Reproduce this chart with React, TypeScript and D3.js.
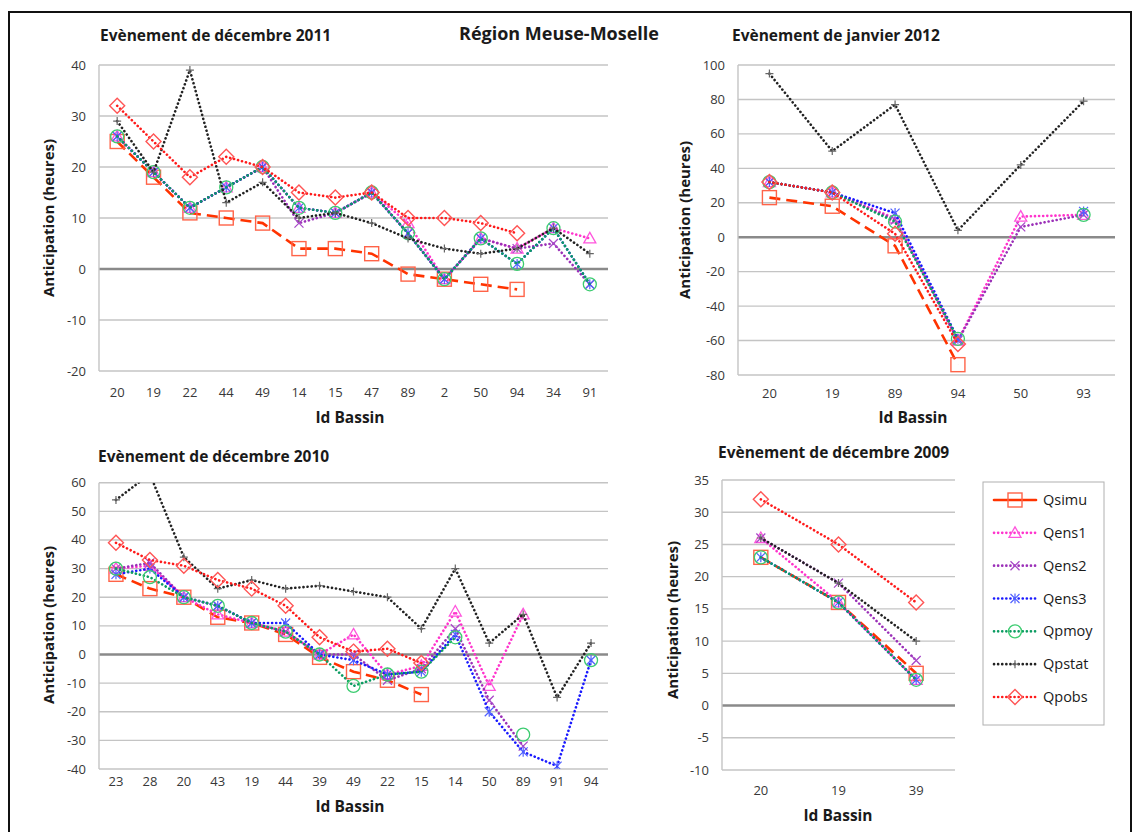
import * as d3 from "d3";

// ---- data -----------------------------------------------------------------
type V = number | null;

const cats2011 = ["20", "19", "22", "44", "49", "14", "15", "47", "89", "2", "50", "94", "34", "91"];
const qsimu2011: V[] = [25, 18, 11, 10, 9, 4, 4, 3, -1, -2, -3, -4, null, null];
const qens1_2011: V[] = [26, 19, 12, 16, 20, 12, 11, 15, 9, -2, 6, 4, 8, 6];
const qens2_2011: V[] = [26, 19, 12, 16, 20, 9, 11, 15, 7, -2, 6, 4, 5, -3];
const qens3_2011: V[] = [26, 19, 12, 16, 20, 12, 11, 15, 7, -2, 6, 1, 8, -3];
const qpmoy2011: V[] = [26, 19, 12, 16, 20, 12, 11, 15, 7, -2, 6, 1, 8, -3];
const qpstat2011: V[] = [29, 19, 39, 13, 17, 10, 11, 9, 6, 4, 3, 4, 8, 3];
const qpobs2011: V[] = [32, 25, 18, 22, 20, 15, 14, 15, 10, 10, 9, 7, null, null];

const cats2012 = ["20", "19", "89", "94", "50", "93"];
const qsimu2012: V[] = [23, 18, -5, -74, null, null];
const qens1_2012: V[] = [32, 26, 11, -60, 12, 13];
const qens2_2012: V[] = [32, 26, 10, -60, 6, 13];
const qens3_2012: V[] = [32, 26, 14, -59, null, 15];
const qpmoy2012: V[] = [32, 26, 9, -59, null, 13];
const qpstat2012: V[] = [95, 50, 77, 4, 42, 79];
const qpobs2012: V[] = [32, 26, 2, -62, null, null];

const cats2010 = ["23", "28", "20", "43", "19", "44", "39", "49", "22", "15", "14", "50", "89", "91", "94"];
const qsimu2010: V[] = [28, 23, 20, 13, 11, 7, -1, -6, -9, -14, null, null, null, null, null];
const qens1_2010: V[] = [30, 31, 20, 14, 11, 8, 0, 7, -7, -4, 15, -11, 14, null, null];
const qens2_2010: V[] = [30, 32, 20, 17, 11, 8, 0, 0, -9, -5, 9, -16, -32, null, null];
const qens3_2010: V[] = [28, 30, 20, 17, 11, 11, 0, -2, -7, -6, 7, -20, -34, -39, -2];
const qpmoy2010: V[] = [30, 27, 20, 17, 11, 8, 0, -11, -7, -6, 6, null, -28, null, -2];
const qpstat2010: V[] = [54, 63, 34, 23, 26, 23, 24, 22, 20, 9, 30, 4, 14, -15, 4];
const qpobs2010: V[] = [39, 33, 31, 26, 23, 17, 6, 1, 2, -3, null, null, null, null, null];

const cats2009 = ["20", "19", "39"];
const qsimu2009: V[] = [23, 16, 5];
const qens1_2009: V[] = [26, 16, 4];
const qens2_2009: V[] = [26, 19, 7];
const qens3_2009: V[] = [23, 16, 4];
const qpmoy2009: V[] = [23, 16, 4];
const qpstat2009: V[] = [26, 19, 10];
const qpobs2009: V[] = [32, 25, 16];

const seriesNames = ["Qsimu", "Qens1", "Qens2", "Qens3", "Qpmoy", "Qpstat", "Qpobs"];

// ---- styles ---------------------------------------------------------------
const styles: Record<string, { line: string; mark: string; kind: string; dash: string; w: number }> = {
  Qsimu: { line: "#ff3300", mark: "#ff6348", kind: "square", dash: "11 6", w: 2.6 },
  Qens1: { line: "#ff33cc", mark: "#ff55dd", kind: "triangle", dash: "0.1 4", w: 2.6 },
  Qens2: { line: "#9b30b8", mark: "#a848c8", kind: "x", dash: "0.1 4", w: 2.6 },
  Qens3: { line: "#1a1aff", mark: "#5060ff", kind: "star", dash: "0.1 4", w: 2.6 },
  Qpmoy: { line: "#0c9c62", mark: "#3ccc70", kind: "circle", dash: "0.1 4", w: 2.6 },
  Qpstat: { line: "#222222", mark: "#666666", kind: "plus", dash: "0.1 4", w: 2.6 },
  Qpobs: { line: "#ff1a1a", mark: "#ff5555", kind: "diamond", dash: "0.1 4", w: 2.6 },
};

const FONT = "'Open Sans', Lato, sans-serif";

function Marker({ kind, x, y, color }: { kind: string; x: number; y: number; color: string }) {
  switch (kind) {
    case "square":
      return <rect x={x - 7} y={y - 7} width={14} height={14} fill="none" stroke={color} strokeWidth={1.4} />;
    case "triangle":
      return <path d={`M${x},${y - 6} L${x + 6},${y + 4.5} L${x - 6},${y + 4.5} Z`} fill="none" stroke={color} strokeWidth={1.3} />;
    case "x":
      return (
        <path d={`M${x - 4.5},${y - 4.5} L${x + 4.5},${y + 4.5} M${x - 4.5},${y + 4.5} L${x + 4.5},${y - 4.5}`} stroke={color} strokeWidth={1.3} />
      );
    case "star":
      return (
        <path
          d={`M${x - 4.5},${y - 4.5} L${x + 4.5},${y + 4.5} M${x - 4.5},${y + 4.5} L${x + 4.5},${y - 4.5} M${x},${y - 5} L${x},${y + 5}`}
          stroke={color}
          strokeWidth={1.2}
        />
      );
    case "circle":
      return <circle cx={x} cy={y} r={6.5} fill="none" stroke={color} strokeWidth={1.3} />;
    case "plus":
      return <path d={`M${x - 4},${y} L${x + 4},${y} M${x},${y - 4} L${x},${y + 4}`} stroke={color} strokeWidth={1.2} />;
    case "diamond":
      return <path d={`M${x},${y - 7.5} L${x + 7.5},${y} L${x},${y + 7.5} L${x - 7.5},${y} Z`} fill="none" stroke={color} strokeWidth={1.4} />;
  }
  return null;
}

type ChartProps = {
  id: string;
  title: string;
  titleX: number;
  titleY: number;
  cats: string[];
  series: V[][];
  left: number;
  right: number;
  top: number;
  bottom: number;
  domain: [number, number];
  step: number;
  tickRight: number;
  xLabelY: number;
  axisTitleX: number;
  axisTitleY: number;
  yTitleX: number;
  yTitleY: number;
};

function Chart(p: ChartProps) {
  const x = d3.scaleBand<string>().domain(p.cats).range([p.left, p.right]);
  const y = d3.scaleLinear().domain(p.domain).range([p.bottom, p.top]);
  const ticks = d3.range(p.domain[0], p.domain[1] + p.step / 2, p.step);
  const cx = (i: number) => (x(p.cats[i]) ?? 0) + x.bandwidth() / 2;

  return (
    <g>
      <defs>
        <clipPath id={`clip-${p.id}`}>
          <rect x={p.left - 10} y={p.top} width={p.right - p.left + 20} height={p.bottom - p.top} />
        </clipPath>
      </defs>
      <text x={p.titleX} y={p.titleY} fontSize={15.5} fontWeight="bold" fill="#1a1a1a">
        {p.title}
      </text>
      {ticks.map((t) => (
        <g key={t}>
          <line
            x1={p.left}
            x2={p.right}
            y1={y(t)}
            y2={y(t)}
            stroke={t === 0 ? "#8a8a8a" : "#c4c4c4"}
            strokeWidth={t === 0 ? 2.6 : 1.4}
          />
          <text x={p.tickRight} y={y(t) + 4.5} textAnchor="end" fontSize={13} fill="#383838">
            {t}
          </text>
        </g>
      ))}
      <line x1={p.left} x2={p.left} y1={p.top} y2={p.bottom} stroke="#c4c4c4" strokeWidth={1.4} />
      {p.cats.map((c, i) => (
        <text key={i} x={cx(i)} y={p.xLabelY} textAnchor="middle" fontSize={13} fill="#383838">
          {c}
        </text>
      ))}
      <text x={p.axisTitleX} y={p.axisTitleY} textAnchor="middle" fontSize={15.5} fontWeight="bold" fill="#1a1a1a">
        Id Bassin
      </text>
      <text
        transform={`translate(${p.yTitleX},${p.yTitleY}) rotate(-90)`}
        textAnchor="middle"
        fontSize={15}
        fontWeight="bold"
        fill="#1a1a1a"
      >
        Anticipation (heures)
      </text>
      <g clipPath={`url(#clip-${p.id})`}>
        {p.series.map((vals, si) => {
          const st = styles[seriesNames[si]];
          const line = d3
            .line<V>()
            .defined((d) => d !== null)
            .x((_, i) => cx(i))
            .y((d) => y(d as number));
          return (
            <g key={si}>
              <path
                d={line(vals) ?? ""}
                fill="none"
                stroke={st.line}
                strokeWidth={st.w}
                strokeDasharray={st.dash}
                strokeLinecap={st.kind === "square" ? "butt" : "round"}
              />
              {vals.map((v, i) =>
                v === null ? null : <Marker key={i} kind={st.kind} x={cx(i)} y={y(v)} color={st.mark} />
              )}
            </g>
          );
        })}
      </g>
    </g>
  );
}

function Legend() {
  const ly = d3.scalePoint<string>().domain(seriesNames).range([500, 697]);
  return (
    <g>
      <rect x={983} y={482} width={121} height={243} fill="white" stroke="#b0b0b0" strokeWidth={1} />
      {seriesNames.map((n) => {
        const st = styles[n];
        const yy = ly(n) ?? 0;
        return (
          <g key={n}>
            <line
              x1={994}
              x2={1036}
              y1={yy}
              y2={yy}
              stroke={st.line}
              strokeWidth={st.w}
              strokeDasharray={st.kind === "square" ? "none" : st.dash}
              strokeLinecap="round"
            />
            <Marker kind={st.kind} x={1015} y={yy} color={st.mark} />
            <text x={1043} y={yy + 5} fontSize={14.5} fill="#1a1a1a">
              {n}
            </text>
          </g>
        );
      })}
    </g>
  );
}

export default function App() {
  return (
    <svg
      width={1137}
      height={832}
      style={{ position: "absolute", left: 0, top: 0, fontFamily: FONT, background: "white" }}
    >
      <rect x={9} y={12} width={1122} height={840} fill="none" stroke="#111" strokeWidth={2} />
      <text x={459} y={40} fontSize={18} fontWeight="bold" fill="#1a1a1a">
        Région Meuse-Moselle
      </text>
      <Chart
        id="a"
        title="Evènement de décembre 2011"
        titleX={100}
        titleY={41}
        cats={cats2011}
        series={[qsimu2011, qens1_2011, qens2_2011, qens3_2011, qpmoy2011, qpstat2011, qpobs2011]}
        left={99}
        right={608}
        top={65}
        bottom={371}
        domain={[-20, 40]}
        step={10}
        tickRight={86}
        xLabelY={397}
        axisTitleX={350}
        axisTitleY={423}
        yTitleX={54}
        yTitleY={218}
      />
      <Chart
        id="b"
        title="Evènement de janvier 2012"
        titleX={732}
        titleY={41}
        cats={cats2012}
        series={[qsimu2012, qens1_2012, qens2_2012, qens3_2012, qpmoy2012, qpstat2012, qpobs2012]}
        left={738}
        right={1115}
        top={65}
        bottom={375}
        domain={[-80, 100]}
        step={20}
        tickRight={725}
        xLabelY={398}
        axisTitleX={913}
        axisTitleY={423}
        yTitleX={690}
        yTitleY={220}
      />
      <Chart
        id="c"
        title="Evènement de décembre 2010"
        titleX={98}
        titleY={462}
        cats={cats2010}
        series={[qsimu2010, qens1_2010, qens2_2010, qens3_2010, qpmoy2010, qpstat2010, qpobs2010]}
        left={99}
        right={608}
        top={482.7}
        bottom={769}
        domain={[-40, 60]}
        step={10}
        tickRight={86}
        xLabelY={786}
        axisTitleX={350}
        axisTitleY={812}
        yTitleX={54}
        yTitleY={625}
      />
      <Chart
        id="d"
        title="Evènement de décembre 2009"
        titleX={718}
        titleY={458}
        cats={cats2009}
        series={[qsimu2009, qens1_2009, qens2_2009, qens3_2009, qpmoy2009, qpstat2009, qpobs2009]}
        left={722}
        right={955}
        top={480}
        bottom={770}
        domain={[-10, 35]}
        step={5}
        tickRight={709}
        xLabelY={795}
        axisTitleX={838}
        axisTitleY={821}
        yTitleX={678}
        yTitleY={620}
      />
      <Legend />
    </svg>
  );
}
